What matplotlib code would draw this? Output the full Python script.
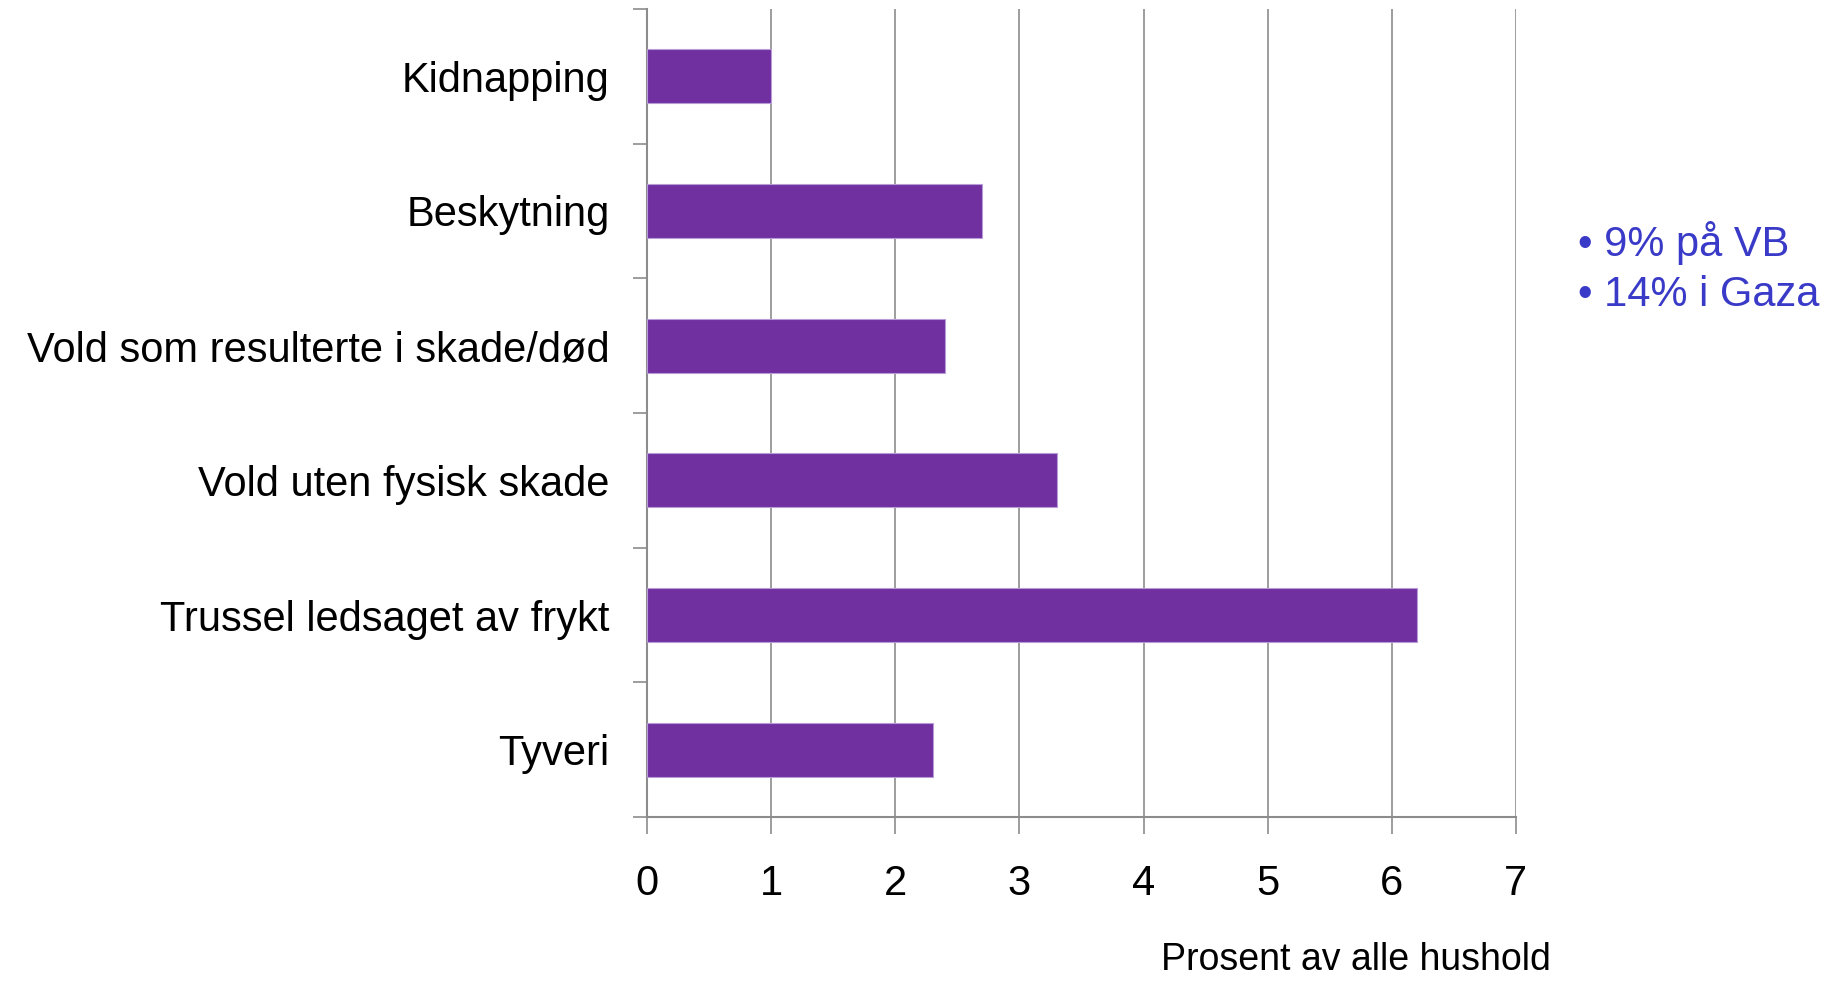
import matplotlib
matplotlib.use("Agg")
import matplotlib.pyplot as plt
import numpy as np

plt.rcParams["font.family"] = ["Liberation Sans", "DejaVu Sans"]

# Data
categories = ["Kidnapping", "Beskytning", "Vold som resulterte i skade/død",
              "Vold uten fysisk skade", "Trussel ledsaget av frykt", "Tyveri"]
values = [1.0, 2.7, 2.4, 3.3, 6.2, 2.3]
x_ticks = [0, 1, 2, 3, 4, 5, 6, 7]
note_lines = ["• 9% på VB", "• 14% i Gaza"]

BAR_COLOR = "#7030A0"
GRID_COLOR = "#8C8C8C"
NOTE_COLOR = "#3A3AC8"

fig = plt.figure(figsize=(18.33, 9.81), dpi=100)
ax = fig.add_axes([0.353, 0.167, 0.474, 0.824])

y = np.arange(len(categories))
ax.barh(y, values, height=0.4, color=BAR_COLOR, edgecolor="#B89CD8",
        linewidth=0.8, zorder=3)

ax.set_xlim(0, 7)
ax.set_ylim(len(categories) - 0.5, -0.5)
ax.set_xticks(x_ticks)
ax.set_xticklabels([str(t) for t in x_ticks], fontsize=30)
ax.set_yticks(y)
ax.set_yticklabels(categories, fontsize=30)
ax.tick_params(axis="y", length=0, pad=27)
ax.set_yticks(np.arange(-0.5, len(categories)), minor=True)
ax.tick_params(axis="y", which="minor", length=10, width=1.2, color=GRID_COLOR)
ax.tick_params(axis="x", length=12, width=1.2, color=GRID_COLOR, pad=22)

ax.grid(axis="x", color=GRID_COLOR, linewidth=1.2, zorder=0)
for side in ["top", "right"]:
    ax.spines[side].set_visible(False)
for side in ["left", "bottom"]:
    ax.spines[side].set_color(GRID_COLOR)
    ax.spines[side].set_linewidth(1.5)

fig.text(0.74, 0.003, "Prosent av alle hushold", fontsize=27, ha="center", va="bottom")

for i, line in enumerate(note_lines):
    fig.text(0.861, 0.752 - i * 0.053, line, fontsize=30, color=NOTE_COLOR,
             ha="left", va="center")

fig.savefig("out.png", dpi=100)
